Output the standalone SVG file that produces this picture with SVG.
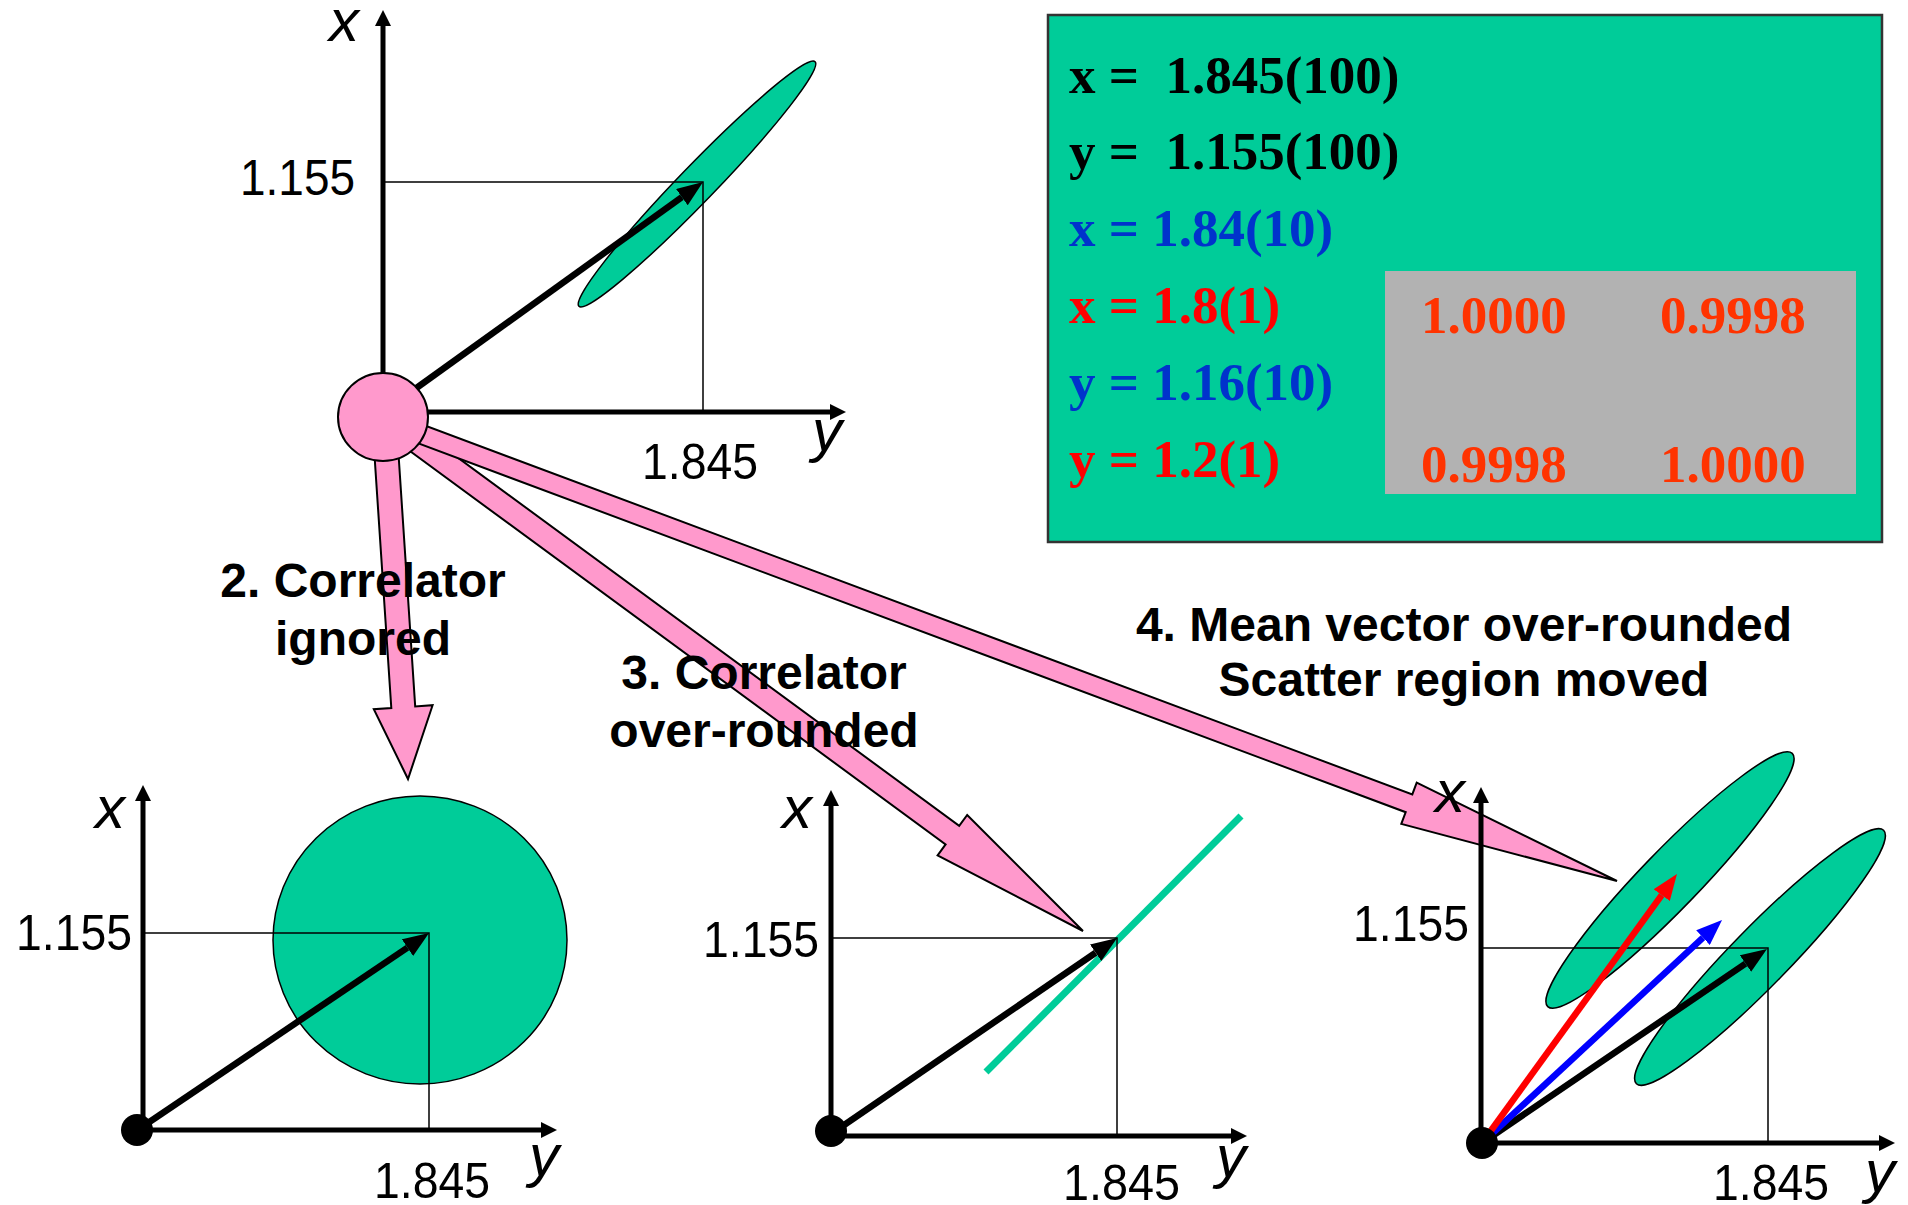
<svg xmlns="http://www.w3.org/2000/svg" width="1908" height="1205" viewBox="0 0 1908 1205">
<defs>
<style>
.ax{stroke:#000;stroke-width:5;fill:none;marker-end:url(#axh)}
.thin{stroke:#000;stroke-width:1.5;fill:none}
.vec{stroke-width:6.5;fill:none}
.num{font-family:"Liberation Sans",Arial,sans-serif;font-size:50px;fill:#000}
.var{font-family:"Liberation Sans",Arial,sans-serif;font-size:60px;font-style:italic;fill:#000}
.cap{font-family:"Liberation Sans",Arial,sans-serif;font-size:48px;font-weight:bold;fill:#000;text-anchor:middle}
.eq{font-family:"Liberation Serif","Times New Roman",serif;font-size:53px;font-weight:bold;white-space:pre}
.scat{fill:#00CC99;stroke:#000;stroke-width:1.5}
.blk{fill:#FF99CC;stroke:#000;stroke-width:2;stroke-linejoin:miter}
.dot{fill:#000}
</style>
<marker id="axh" markerUnits="userSpaceOnUse" markerWidth="16" markerHeight="16" refX="0" refY="8" orient="auto" viewBox="0 0 16 16"><path d="M0,0 L16,8 L0,16 z" fill="#000"/></marker>
<marker id="hk" markerUnits="userSpaceOnUse" markerWidth="26" markerHeight="20" refX="0" refY="10" orient="auto" viewBox="0 0 26 20"><path d="M0,0 L26,10 L0,20 z" fill="#000"/></marker>
<marker id="hb" markerUnits="userSpaceOnUse" markerWidth="26" markerHeight="20" refX="0" refY="10" orient="auto" viewBox="0 0 26 20"><path d="M0,0 L26,10 L0,20 z" fill="#0000FF"/></marker>
<marker id="hr" markerUnits="userSpaceOnUse" markerWidth="26" markerHeight="20" refX="0" refY="10" orient="auto" viewBox="0 0 26 20"><path d="M0,0 L26,10 L0,20 z" fill="#FF0000"/></marker>
</defs>

<g id="panel-values">
<rect x="1048" y="15" width="834" height="527" fill="#00CC99" stroke="#333" stroke-width="2.5"/>
<rect x="1385" y="271" width="471" height="223" fill="#B2B2B2"/>
<text class="eq" x="1069" y="93" fill="#000">x =  1.845(100)</text>
<text class="eq" x="1069" y="169" fill="#000">y =  1.155(100)</text>
<text class="eq" x="1069" y="246" fill="#0033CC">x = 1.84(10)</text>
<text class="eq" x="1069" y="323" fill="#FF0000">x = 1.8(1)</text>
<text class="eq" x="1069" y="400" fill="#0033CC">y = 1.16(10)</text>
<text class="eq" x="1069" y="477" fill="#FF0000">y = 1.2(1)</text>
<text class="eq" x="1421" y="333" fill="#FF3300">1.0000</text>
<text class="eq" x="1660" y="333" fill="#FF3300">0.9998</text>
<text class="eq" x="1421" y="482" fill="#FF3300">0.9998</text>
<text class="eq" x="1660" y="482" fill="#FF3300">1.0000</text>
</g>

<g id="plot-original">
<ellipse class="scat" cx="697" cy="184" rx="170" ry="18" transform="rotate(-46 697 184)"/>
<path class="thin" d="M383,182 H703 V412"/>
<line class="ax" x1="383" y1="412" x2="383" y2="26"/>
<line class="ax" x1="383" y1="412" x2="830" y2="412"/>
<line class="vec" stroke="#000" marker-end="url(#hk)" x1="383" y1="412" x2="681.9" y2="197.2"/>
<text class="var" x="329" y="41">x</text>
<text class="num" x="240" y="195" textLength="115" lengthAdjust="spacingAndGlyphs">1.155</text>
<text class="num" x="642" y="479" textLength="116" lengthAdjust="spacingAndGlyphs">1.845</text>
<text class="var" x="812" y="451">y</text>
</g>

<g id="connectors">
<polygon class="blk" points="372.0,417.8 391.3,708.0 373.8,709.2 408,779 432.6,705.2 415.2,706.4 396.0,416.2"/>
<polygon class="blk" points="376.2,426.3 945.6,844.4 937.6,855.3 1083,931 967.2,815.0 959.2,825.8 389.8,407.7"/>
<polygon class="blk" points="379.7,428.9 1405.7,812.2 1401.3,823.9 1617,881 1416.7,782.7 1412.3,794.4 386.3,411.1"/>
</g>

<g id="node-origin">
<ellipse cx="383" cy="417" rx="45" ry="44" fill="#FF99CC" stroke="#000" stroke-width="2"/>
</g>

<g id="plot-ignored">
<ellipse class="scat" cx="420" cy="940" rx="147" ry="144"/>
<path class="thin" d="M143,933 H429 V1130"/>
<line class="ax" x1="143" y1="1130" x2="143" y2="801"/>
<line class="ax" x1="137" y1="1130" x2="541" y2="1130"/>
<line class="vec" stroke="#000" marker-end="url(#hk)" x1="139" y1="1129" x2="407.5" y2="947.6"/>
<circle class="dot" cx="137" cy="1130" r="16"/>
<text class="var" x="95" y="828">x</text>
<text class="num" x="16" y="950" textLength="116" lengthAdjust="spacingAndGlyphs">1.155</text>
<text class="num" x="374" y="1198" textLength="116" lengthAdjust="spacingAndGlyphs">1.845</text>
<text class="var" x="529" y="1176">y</text>
</g>

<g id="plot-overrounded">
<line stroke="#00CC99" stroke-width="7" x1="986" y1="1072" x2="1241" y2="816"/>
<path class="thin" d="M831,938 H1117 V1136"/>
<line class="ax" x1="831" y1="1136" x2="831" y2="806"/>
<line class="ax" x1="831" y1="1136" x2="1231" y2="1136"/>
<line class="vec" stroke="#000" marker-end="url(#hk)" x1="831" y1="1134" x2="1095.6" y2="952.7"/>
<circle class="dot" cx="831" cy="1131" r="16"/>
<text class="var" x="782" y="828">x</text>
<text class="num" x="703" y="957" textLength="116" lengthAdjust="spacingAndGlyphs">1.155</text>
<text class="num" x="1063" y="1200" textLength="117" lengthAdjust="spacingAndGlyphs">1.845</text>
<text class="var" x="1216" y="1177">y</text>
</g>

<g id="plot-moved">
<ellipse class="scat" cx="1670" cy="880" rx="176" ry="29" transform="rotate(-46 1670 880)"/>
<ellipse class="scat" cx="1760" cy="957" rx="177" ry="29" transform="rotate(-45.7 1760 957)"/>
<path class="thin" d="M1481,948 H1768 V1143"/>
<line class="ax" x1="1481" y1="1143" x2="1481" y2="803"/>
<line class="ax" x1="1481" y1="1143" x2="1879" y2="1143"/>
<line class="vec" stroke="#000" marker-end="url(#hk)" x1="1482" y1="1143" x2="1745.5" y2="963.6"/>
<line class="vec" stroke="#0000FF" marker-end="url(#hb)" x1="1482" y1="1143" x2="1703" y2="937.7"/>
<line class="vec" stroke="#FF0000" marker-end="url(#hr)" x1="1482" y1="1143" x2="1661.7" y2="895.1"/>
<circle class="dot" cx="1482" cy="1143" r="16"/>
<text class="var" x="1435" y="812">x</text>
<text class="num" x="1353" y="941" textLength="116" lengthAdjust="spacingAndGlyphs">1.155</text>
<text class="num" x="1713" y="1200" textLength="116" lengthAdjust="spacingAndGlyphs">1.845</text>
<text class="var" x="1865" y="1192">y</text>
</g>

<g id="labels">
<text class="cap" x="363" y="597">2. Correlator</text>
<text class="cap" x="363" y="655">ignored</text>
<text class="cap" x="764" y="689">3. Correlator</text>
<text class="cap" x="764" y="747">over-rounded</text>
<text class="cap" x="1464" y="641">4. Mean vector over-rounded</text>
<text class="cap" x="1464" y="696">Scatter region moved</text>
</g>
</svg>
